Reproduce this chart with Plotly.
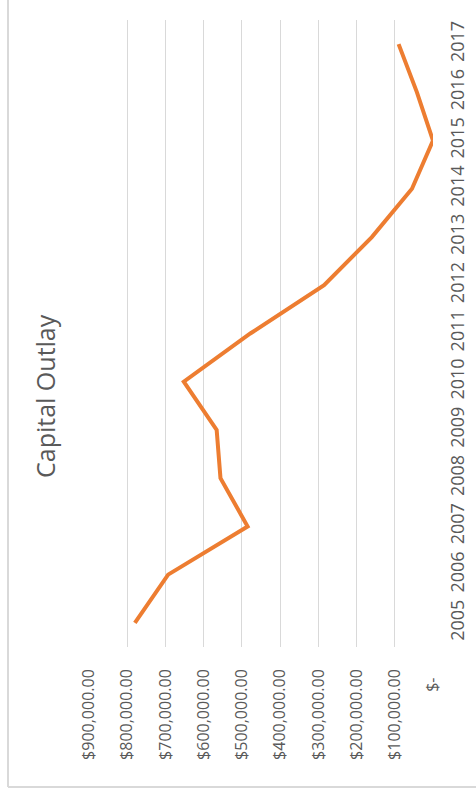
import plotly.graph_objects as go

years = [2005, 2006, 2007, 2008, 2009, 2010, 2011, 2012, 2013, 2014, 2015, 2016, 2017]
capital_outlay = [780000, 693000, 485000, 556000, 566000, 652000, 478000,
                  285000, 160000, 55000, 0, 42000, 90000]

value_ticks = [0, 100000, 200000, 300000, 400000, 500000, 600000, 700000, 800000, 900000]
value_labels = ["$-\u00a0\u00a0"] + [f"${v:,.2f}" for v in value_ticks[1:]]

LINE = "#ED7D31"
TEXT = "#595959"
GRID = "#D9D9D9"
FONT = "Open Sans"

W, H = 476, 793
L, R, T, B = 89, 43, 20, 146
PW, PH = W - L - R, H - T - B


def px_x(x):
    return (x - L) / PW


def px_y(y):
    return (H - B - y) / PH


fig = go.Figure()
fig.add_trace(
    go.Scatter(
        x=capital_outlay,
        y=years,
        mode="lines",
        line={"color": LINE, "width": 4},
        hoverinfo="skip",
    )
)

fig.update_layout(
    width=W,
    height=H,
    margin={"l": L, "r": R, "t": T, "b": B, "autoexpand": False},
    paper_bgcolor="white",
    plot_bgcolor="white",
    showlegend=False,
    font={"family": FONT, "color": TEXT, "size": 16},
)

fig.update_xaxes(
    range=[900000, 0],
    tickvals=value_ticks,
    ticktext=value_labels,
    tickangle=-90,
    showgrid=True,
    gridcolor=GRID,
    gridwidth=1,
    zeroline=False,
    showline=False,
    ticks="",
    automargin=False,
    ticklabelstandoff=18,
    tickfont={"size": 16, "color": TEXT},
)

fig.update_yaxes(
    range=[2004.5, 2017.5],
    tickvals=years,
    ticktext=[str(y) for y in years],
    side="right",
    tickangle=-90,
    showgrid=False,
    zeroline=False,
    showline=False,
    ticks="",
    automargin=False,
    ticklabelstandoff=12,
    tickfont={"size": 18, "color": TEXT},
)

fig.add_annotation(
    text="Capital Outlay",
    x=px_x(45),
    y=px_y(396),
    xref="paper",
    yref="paper",
    xanchor="center",
    yanchor="middle",
    textangle=-90,
    showarrow=False,
    font={"family": FONT, "size": 25, "color": TEXT},
)

# chart area border (left and bottom edges visible in the crop)
fig.add_shape(
    type="line", xref="paper", yref="paper",
    x0=px_x(8), y0=px_y(787), x1=px_x(8), y1=px_y(-10),
    line={"color": GRID, "width": 2},
)
fig.add_shape(
    type="line", xref="paper", yref="paper",
    x0=px_x(8), y0=px_y(787), x1=px_x(490), y1=px_y(787),
    line={"color": GRID, "width": 2},
)

# drop the default page margin so the figure sits at the window origin
fig.write_html(
    "out.html",
    config={"displayModeBar": False},
    post_script="document.body.style.margin='0';",
)
